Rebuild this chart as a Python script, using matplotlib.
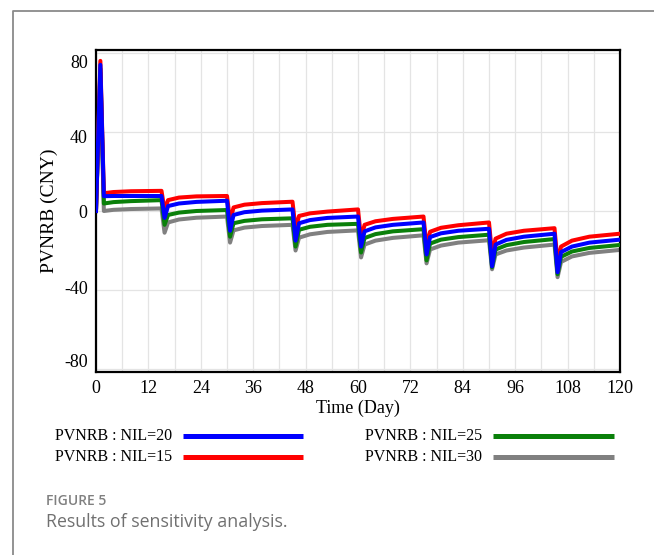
"""Sensitivity analysis of PVNRB for different NIL values (figure 5 recreation)."""
import matplotlib

matplotlib.use("Agg")
import matplotlib.pyplot as plt
import matplotlib.transforms as mtransforms
from matplotlib.lines import Line2D

plt.rcParams["axes.unicode_minus"] = False

# time points (day): spike, then per 15-day cycle end / dip / recovery
TIME = [0, 1, 1.8, 4, 8, 15,
        15.7, 16.5, 19, 23, 30,
        30.7, 31.5, 34, 38, 45,
        45.7, 46.5, 49, 53, 60,
        60.7, 61.5, 64, 68, 75,
        75.7, 76.5, 79, 83, 90,
        90.7, 91.5, 94, 98, 105,
        105.7, 106.5, 109, 113, 120]

NIL15 = [0, 76, 9.0, 9.6, 10.0, 10.2,
         0.5, 5.5, 6.8, 7.4, 7.6,
         -5, 1.8, 3.2, 4.0, 4.7,
         -9, -2.5, -1.2, -0.3, 0.8,
         -14, -7, -5.2, -4.0, -2.8,
         -18, -10.5, -8.5, -7.2, -5.8,
         -22, -14, -11.5, -10, -8.7,
         -26, -18, -15, -13, -11.5]

NIL20 = [0, 74, 7.5, 7.6, 7.6, 7.6,
         -3.5, 2.5, 3.8, 4.6, 5.2,
         -10, -2, -0.6, 0.2, 0.8,
         -15, -6.2, -4.6, -3.5, -2.8,
         -18, -10.3, -8.3, -7, -5.8,
         -22, -13.2, -11.3, -10, -9,
         -28, -17, -14.6, -13, -11.5,
         -31, -20.8, -18, -16, -14.5]

NIL25 = [0, 72, 3.8, 4.5, 5.0, 5.5,
         -7, -2, -0.8, 0, 0.5,
         -13, -6.2, -5, -4.2, -3.7,
         -18, -9.5, -8, -7, -6.5,
         -21, -13.7, -11.7, -10.3, -9.2,
         -25, -16.5, -14.5, -13.2, -12,
         -28.5, -19.5, -17.3, -15.7, -14.2,
         -32, -23.2, -20.5, -18.7, -17.2]

NIL30 = [0, 70, 0, 0.6, 1.0, 1.3,
         -11, -5.8, -4.3, -3.4, -2.8,
         -16, -9.8, -8.4, -7.6, -7,
         -20, -13.5, -11.8, -10.6, -9.8,
         -23.5, -17, -15, -13.6, -12.3,
         -26.5, -19.5, -17.5, -16, -14.8,
         -29.5, -22, -20, -18.5, -17,
         -33.5, -25.8, -23, -21.2, -19.7]

XTICKS = list(range(0, 121, 12))
YTICKS = [-80, -40, 0, 40, 80]

SERIES = [  # (label, values, colour, zorder)
    ("PVNRB : NIL=30", NIL30, "#808080", 2),
    ("PVNRB : NIL=25", NIL25, "#0a800a", 3),
    ("PVNRB : NIL=15", NIL15, "#ff0000", 4),
    ("PVNRB : NIL=20", NIL20, "#0000ff", 5),
]

SERIF = "Liberation Serif"

fig = plt.figure(figsize=(6.54, 5.55), dpi=100)
ax = fig.add_axes([96 / 654, 1 - 372 / 555, 524 / 654, 322 / 555])

for label, vals, col, z in SERIES:
    ax.plot(TIME, vals, color=col, lw=2.9, zorder=z)

ax.set_xlim(0, 120)
ax.set_ylim(-81.5, 81.5)
ax.set_xticks(XTICKS)
ax.set_xticks(range(0, 121, 6), minor=True)
ax.set_yticks(YTICKS)
ax.grid(True, which="both", axis="x", color="#e4e4e4", lw=0.9)
ax.grid(True, which="major", axis="y", color="#e4e4e4", lw=0.9)
ax.set_axisbelow(True)
ax.tick_params(which="both", length=0, pad=6)
for lab in ax.get_xticklabels() + ax.get_yticklabels():
    lab.set_fontfamily(SERIF)
    lab.set_fontsize(13)
for sp in ax.spines.values():
    sp.set_linewidth(1.6)
    sp.set_color("black")

# Vensim pulls the y labels a little towards the middle (pixels)
shift = {80: -9, 40: -5, -40: 3, -80: 9}
for val, lab in zip(YTICKS, ax.get_yticklabels()):
    if val in shift:
        off = mtransforms.ScaledTranslation(0, shift[val] / 100, fig.dpi_scale_trans)
        lab.set_transform(lab.get_transform() + off)

ax.set_xlabel("Time (Day)", fontfamily=SERIF, fontsize=13, labelpad=2)
ax.set_ylabel("PVNRB (CNY)", fontfamily=SERIF, fontsize=14, labelpad=4)

# legend drawn by hand, two columns below the plot
legend_pos = {
    "PVNRB : NIL=20": (55, 436, 183, 303),
    "PVNRB : NIL=15": (55, 457, 183, 303),
    "PVNRB : NIL=25": (365, 436, 493, 614),
    "PVNRB : NIL=30": (365, 457, 493, 614),
}
for label, vals, col, z in SERIES:
    tx, ty, lx0, lx1 = legend_pos[label]
    fig.text(tx / 654, 1 - ty / 555, label, fontfamily=SERIF, fontsize=11.5,
             ha="left", va="center")
    fig.add_artist(Line2D([lx0 / 654, lx1 / 654], [1 - ty / 555, 1 - ty / 555],
                          transform=fig.transFigure, color=col, lw=3.6,
                          solid_capstyle="butt"))

# card frame and caption
fig.add_artist(Line2D([13 / 654, 13 / 654, 1], [0, 1 - 11 / 555, 1 - 11 / 555],
                      transform=fig.transFigure, color="#8a8a8a", lw=1.3))
fig.text(46 / 654, 1 - 501 / 555, "FIGURE 5", fontfamily="Open Sans",
         fontsize=10, fontweight="semibold", color="#808080", va="center")
fig.text(46 / 654, 1 - 522 / 555, "Results of sensitivity analysis.",
         fontfamily="Open Sans", fontsize=12.8, color="#707070", va="center")

fig.savefig("out.png", dpi=100)
